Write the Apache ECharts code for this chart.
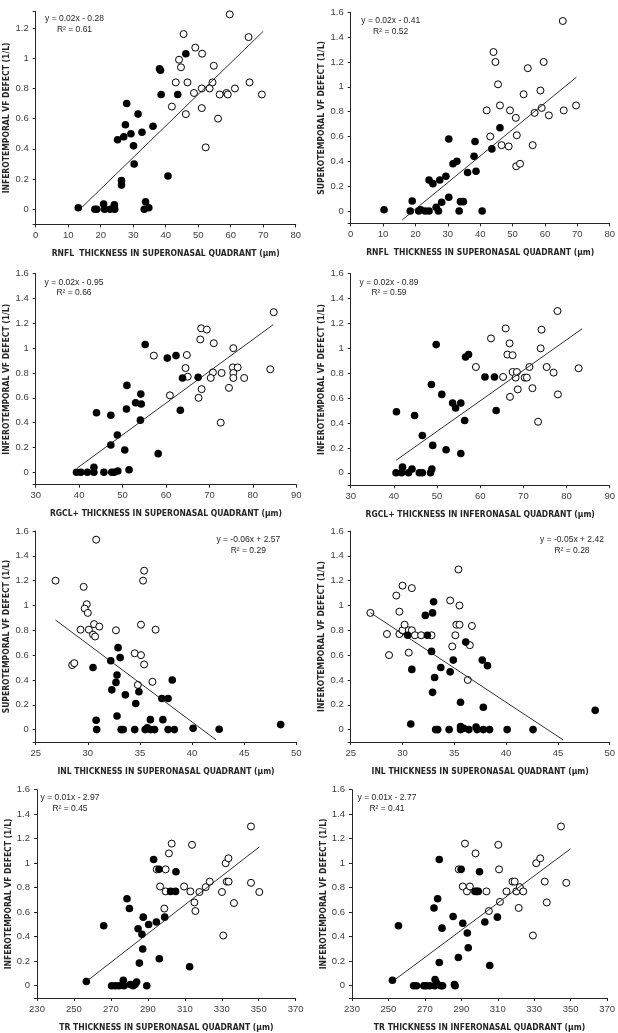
<!DOCTYPE html>
<html>
<head>
<meta charset="utf-8">
<script src="https://cdn.jsdelivr.net/npm/echarts@6/dist/echarts.min.js"></script>
<style>
html,body{margin:0;padding:0;background:#fff;}
#chart{width:618px;height:1033px;}
</style>
</head>
<body>
<div id="chart"></div>
<script>
// ---------- DATA ----------
const Y_LABELS = [0, 0.2, 0.4, 0.6, 0.8, 1, 1.2, 1.4, 1.6];
const Y_LABELS_P1 = [0, 0.2, 0.4, 0.6, 0.8, 1, 1.2];

// Panel 1: RNFL superonasal vs inferotemporal VF defect
const P1_FILLED = [[13.1,0.01],[18.2,0],[18.8,0],[20.9,0.035],[21.2,0],[22.9,0],[24.2,0.03],[24.3,0],[26.4,0.19],[26.4,0.16],[25.2,0.46],[27.1,0.48],[27.6,0.56],[28.0,0.70],[29.3,0.50],[30.1,0.42],[30.3,0.30],[31.5,0.63],[32.7,0.51],[36.1,0.55],[33.4,0],[33.8,0.05],[34.8,0.01],[38.1,0.93],[38.4,0.92],[38.6,0.76],[40.7,0.22],[43.7,0.76],[46.2,1.03]];
const P1_OPEN = [[45.5,1.16],[44.1,0.99],[44.7,0.94],[43.1,0.84],[46.7,0.84],[41.9,0.68],[46.2,0.63],[49.1,1.07],[51.2,1.03],[48.7,0.77],[51.1,0.80],[51.1,0.67],[52.3,0.41],[53.5,0.80],[54.4,0.84],[54.8,0.95],[56.1,0.60],[56.6,0.76],[58.7,0.77],[59.1,0.76],[59.7,1.29],[61.3,0.80],[65.5,1.14],[65.8,0.84],[69.6,0.76]];
const P1_TREND = [[14.2,0.013],[70.0,1.178]];

// Panel 2: RNFL superonasal vs superotemporal VF defect
const P2_FILLED = [[10.3,0.01],[18.4,0],[19.0,0.08],[21.0,0],[21.6,0.01],[23.0,0],[24.2,0],[24.2,0.25],[25.4,0.22],[26.4,0.03],[27.1,0],[27.5,0.25],[28.1,0.07],[29.4,0.28],[30.3,0.58],[30.3,0.11],[31.6,0.38],[32.8,0.40],[33.5,0],[33.9,0.075],[34.8,0.075],[36.1,0.31],[38.1,0.44],[38.4,0.56],[38.7,0.32],[40.6,0],[43.6,0.50],[46.1,0.67]];
const P2_OPEN = [[44.1,1.28],[44.7,1.20],[45.5,1.02],[42.0,0.81],[43.1,0.60],[46.1,0.85],[46.6,0.53],[48.8,0.52],[49.2,0.81],[51.0,0.75],[51.3,0.61],[51.1,0.36],[52.3,0.38],[53.4,0.94],[54.7,1.15],[56.2,0.53],[56.8,0.79],[58.6,0.97],[59.0,0.83],[59.6,1.20],[61.2,0.77],[65.5,1.53],[65.8,0.81],[69.6,0.85]];
const P2_TREND = [[15.9,-0.072],[69.7,1.077]];

// Panel 3: RGCL+ superonasal vs inferotemporal VF defect
const P3_FILLED = [[39.4,0],[40.4,0],[41.9,0],[43.4,0.04],[43.4,0],[44.0,0.48],[45.7,0],[47.3,0.46],[47.3,0.22],[47.5,0],[48.1,0],[48.9,0.01],[48.8,0.30],[50.5,0.18],[50.9,0.51],[51.0,0.70],[51.5,0.02],[53.0,0.56],[54.3,0.55],[54.2,0.63],[54.1,0.42],[55.2,1.03],[58.2,0.15],[60.3,0.92],[62.3,0.94],[63.3,0.50],[63.8,0.76],[67.4,0.765]];
const P3_OPEN = [[57.2,0.94],[60.9,0.62],[64.5,0.84],[64.8,0.945],[65.0,0.77],[67.5,0.60],[67.9,1.07],[68.1,1.16],[68.2,0.67],[69.4,1.15],[71.0,1.04],[70.8,0.805],[70.3,0.76],[72.6,0.40],[72.8,0.80],[74.5,0.68],[75.5,1.00],[75.4,0.845],[75.5,0.80],[75.5,0.76],[76.5,0.845],[78.0,0.76],[84.0,0.83],[84.8,1.29]];
const P3_TREND = [[39.6,0.035],[84.7,1.19]];

// Panel 4: RGCL+ inferonasal vs inferotemporal VF defect
const P4_FILLED = [[40.5,0],[40.6,0.49],[41.8,0],[42.0,0.045],[43.4,0],[44.2,0.03],[44.8,0.46],[45.9,0],[46.6,0.30],[46.6,0],[48.5,0],[48.7,0.71],[48.8,0.03],[49.0,0.22],[49.8,1.03],[51.1,0.63],[52.1,0.185],[53.6,0.56],[54.3,0.52],[55.5,0.56],[55.5,0.155],[56.4,0.42],[56.6,0.93],[57.3,0.95],[61.1,0.77],[63.3,0.77],[63.7,0.50]];
const P4_OPEN = [[59.0,0.85],[62.5,1.08],[65.3,0.77],[65.9,1.16],[66.3,0.95],[66.8,1.04],[66.9,0.61],[67.5,0.945],[67.5,0.81],[68.2,0.765],[68.5,0.81],[68.7,0.67],[70.3,0.765],[70.8,0.765],[71.4,0.85],[72.1,0.68],[73.4,0.41],[74.0,1.00],[74.2,1.15],[75.4,0.85],[77.0,0.805],[78.0,0.63],[77.9,1.30],[82.8,0.84]];
const P4_TREND = [[40.5,0.10],[83.6,1.157]];

// Panel 5: INL superonasal vs superotemporal VF defect
const P5_FILLED = [[30.5,0.50],[30.8,0.075],[30.85,0],[32.2,0.555],[32.3,0.32],[32.9,0.66],[33.1,0.58],[32.8,0.44],[32.7,0.38],[32.8,0.11],[33.2,0],[33.4,0],[33.6,0.28],[34.6,0.21],[34.5,0],[34.9,0.305],[35.5,0],[35.7,0.015],[36.0,0.08],[36.0,0],[36.4,0],[37.1,0.25],[37.2,0.08],[37.7,0.25],[37.7,0],[38.1,0.40],[38.3,0],[40.1,0.01],[42.6,0.003],[48.5,0.04]];
const P5_OPEN = [[26.9,1.20],[30.8,1.53],[29.6,1.15],[29.9,1.01],[29.7,0.975],[30.0,0.94],[29.3,0.805],[30.1,0.805],[30.6,0.85],[31.1,0.83],[30.5,0.765],[30.7,0.75],[28.5,0.52],[28.7,0.535],[32.7,0.80],[35.4,1.28],[35.3,1.20],[35.1,0.845],[36.5,0.805],[34.5,0.615],[35.1,0.60],[35.4,0.525],[36.2,0.385],[34.8,0.36]];
const P5_TREND = [[26.9,0.883],[42.3,-0.083]];

// Panel 6: INL superonasal vs inferotemporal VF defect
const P6_FILLED = [[30.5,0.76],[30.8,0.045],[30.9,0.485],[32.2,0.92],[32.4,0.76],[32.9,0.94],[33.0,1.03],[32.8,0.63],[32.9,0.30],[33.1,0.42],[33.2,0],[33.4,0],[33.7,0.50],[34.6,0.465],[34.5,0],[34.9,0.56],[35.6,0.22],[35.6,0.025],[35.6,0],[35.9,0.01],[36.1,0.705],[36.4,0],[37.1,0.02],[37.2,0],[37.7,0.56],[37.8,0.18],[37.8,0],[38.2,0.515],[38.4,0],[40.1,0],[42.6,0],[48.6,0.155]];
const P6_OPEN = [[26.9,0.94],[28.5,0.77],[28.7,0.60],[29.4,1.08],[30.0,1.16],[29.7,0.95],[29.7,0.77],[30.0,0.80],[30.2,0.845],[30.6,0.62],[30.6,0.80],[30.9,0.80],[30.9,1.14],[31.2,0.76],[31.8,0.76],[32.8,0.76],[34.6,1.04],[34.8,0.67],[35.1,0.76],[35.2,0.845],[35.4,1.29],[35.5,0.845],[35.5,1.00],[36.3,0.40],[36.5,0.68],[36.7,0.835]];
const P6_TREND = [[26.9,0.942],[45.5,-0.083]];

// Panel 7: TR superonasal vs inferotemporal VF defect
const P7_FILLED = [[256.7,0.035],[266.1,0.49],[270.4,0],[272.4,0],[274.4,0],[276.7,0.045],[277.1,0],[278.7,0.71],[280.0,0.63],[280.5,0.01],[282.0,0],[283.0,0.01],[283.9,0.03],[284.7,0.465],[285.4,0.185],[286.8,0.42],[287.2,0.30],[287.5,0.56],[289.4,0],[290.4,0.50],[293.1,1.03],[294.6,0.52],[296.0,0.95],[296.2,0.22],[299.1,0.56],[302.3,0.77],[305.0,0.77],[305.2,0.93],[312.6,0.155]];
const P7_OPEN = [[294.8,0.95],[299.6,0.95],[296.6,0.81],[299.6,0.77],[298.9,0.63],[301.4,1.08],[302.9,1.16],[309.6,0.81],[313.0,0.77],[313.9,1.15],[315.2,0.68],[315.7,0.61],[317.9,0.765],[321.3,0.805],[323.5,0.85],[330.1,0.765],[330.8,0.41],[332.1,1.00],[332.7,0.85],[333.6,1.04],[333.7,0.85],[336.6,0.675],[345.8,1.30],[345.8,0.84],[350.3,0.765]];
const P7_TREND = [[256.7,0.035],[350.3,1.133]];

// Panel 8: TR inferonasal vs inferotemporal VF defect
const P8_FILLED = [[252.2,0.045],[255.5,0.49],[263.8,0],[265.4,0],[269.4,0],[270.7,0],[272.7,0],[275.4,0],[275.6,0.05],[276.5,0.02],[278.7,0],[279.7,0],[275.0,0.635],[277.0,0.71],[277.9,1.03],[277.9,0.19],[279.4,0.47],[285.5,0.565],[286.2,0.01],[286.6,0],[288.4,0.23],[289.9,0.95],[290.8,0.51],[293.3,0.43],[293.8,0.31],[297.5,0.77],[299.3,0.77],[300.0,0.93],[302.9,0.52],[305.6,0.165],[309.8,0.56]];
const P8_OPEN = [[288.6,0.95],[290.8,0.81],[292.0,1.16],[293.1,0.77],[294.7,0.81],[297.8,1.08],[298.5,0.77],[303.8,0.77],[305.1,0.61],[310.3,1.15],[310.7,0.95],[311.2,0.685],[314.8,0.77],[318.1,0.85],[319.3,0.85],[320.2,0.77],[321.5,0.635],[322.1,0.805],[324.0,0.77],[329.3,0.41],[331.1,1.00],[333.3,1.04],[335.8,0.85],[336.9,0.68],[344.7,1.30],[347.6,0.84]];
const P8_TREND = [[253.7,0.051],[349.9,1.117]];

const EQ_LINES = [
  ['y = 0.02x - 0.28', 'R\u00B2 = 0.61'],
  ['y = 0.02x - 0.41', 'R\u00B2 = 0.52'],
  ['y = 0.02x - 0.95', 'R\u00B2 = 0.66'],
  ['y = 0.02x - 0.89', 'R\u00B2 = 0.59'],
  ['y = -0.06x + 2.57', 'R\u00B2 = 0.29'],
  ['y = -0.05x + 2.42', 'R\u00B2 = 0.28'],
  ['y = 0.01x - 2.97', 'R\u00B2 = 0.45'],
  ['y = 0.01x - 2.77', 'R\u00B2 = 0.41']
];
const X_NAMES = [
  'RNFL  THICKNESS IN SUPERONASAL QUADRANT (\u00B5m)',
  'RNFL  THICKNESS IN SUPERONASAL QUADRANT (\u00B5m)',
  'RGCL+ THICKNESS IN SUPERONASAL QUADRANT (\u00B5m)',
  'RGCL+ THICKNESS IN INFERONASAL QUADRANT (\u00B5m)',
  'INL THICKNESS IN SUPERONASAL QUADRANT (\u00B5m)',
  'INL THICKNESS IN SUPERONASAL QUADRANT (\u00B5m)',
  'TR THICKNESS IN SUPERONASAL QUADRANT (\u00B5m)',
  'TR THICKNESS IN INFERONASAL QUADRANT (\u00B5m)'
];
const Y_NAMES = [
  'INFEROTEMPORAL VF DEFECT (1/L)',
  'SUPEROTEMPORAL VF DEFECT (1/L)',
  'INFEROTEMPORAL VF DEFECT (1/L)',
  'INFEROTEMPORAL VF DEFECT (1/L)',
  'SUPEROTEMPORAL VF DEFECT (1/L)',
  'INFEROTEMPORAL VF DEFECT (1/L)',
  'INFEROTEMPORAL VF DEFECT (1/L)',
  'INFEROTEMPORAL VF DEFECT (1/L)'
];
const X_RANGES = [[0,80,10],[0,80,10],[30,90,10],[30,90,10],[25,50,5],[25,50,5],[230,370,20],[230,370,20]];

// ---------- LAYOUT ----------
const FILLED = [P1_FILLED,P2_FILLED,P3_FILLED,P4_FILLED,P5_FILLED,P6_FILLED,P7_FILLED,P8_FILLED];
const OPEN = [P1_OPEN,P2_OPEN,P3_OPEN,P4_OPEN,P5_OPEN,P6_OPEN,P7_OPEN,P8_OPEN];
const TRENDS = [P1_TREND,P2_TREND,P3_TREND,P4_TREND,P5_TREND,P6_TREND,P7_TREND,P8_TREND];

const GRIDS = [
  {left:35.7, top:11.4, width:260, height:213},
  {left:350.7, top:12.3, width:260.6, height:211.1},
  {left:35.7, top:273.7, width:260.6, height:211},
  {left:350.7, top:273.7, width:260.6, height:211.5},
  {left:35.7, top:531, width:260.6, height:211},
  {left:350.7, top:531, width:260.6, height:211},
  {left:37, top:789.7, width:258.7, height:211.5},
  {left:352, top:789.7, width:258, height:211.5}
];
const EQ_POS = [[74.5,18.5,29.5],[390.7,20.7,31.7],[74,282.3,293],[389,282.3,293],[248.3,540,550.5],[572,540,550.5],[70,798,808.5],[387,798,808.5]];

const FONT = '"Liberation Sans", Arial, sans-serif';
const NAME_FONT = '"Liberation Sans Narrow", "DejaVu Sans Condensed", "Liberation Sans", sans-serif';
const TXT = '#404040';
const AX = '#262626';

const option = {
  animation: false,
  backgroundColor: '#fff',
  grid: [], xAxis: [], yAxis: [], series: [], graphic: []
};

for (let i = 0; i < 8; i++) {
  option.grid.push(Object.assign({containLabel:false}, GRIDS[i]));
  const xr = X_RANGES[i];
  option.xAxis.push({
    type:'value', gridIndex:i, min:xr[0], max:xr[1], interval:xr[2],
    position:'bottom',
    axisLine:{onZero:false, lineStyle:{color:AX, width:1}},
    axisTick:{show:true, inside:false, length:3, lineStyle:{color:AX}},
    axisLabel:{color:TXT, fontSize:9.5, fontFamily:FONT, margin:6},
    splitLine:{show:false},
    name:X_NAMES[i], nameLocation:'middle', nameGap:25,
    nameTextStyle:{color:'#262626', fontWeight:'bold', fontSize:8.5, fontFamily:NAME_FONT}
  });
  const yMax = i === 0 ? 1.31 : 1.6;
  const yl = i === 0 ? Y_LABELS_P1 : Y_LABELS;
  option.yAxis.push({
    type:'value', gridIndex:i, min:-0.1, max:yMax,
    axisLine:{show:true, onZero:false, lineStyle:{color:AX, width:1}},
    axisTick:{show:true, length:3, lineStyle:{color:AX}, customValues:[-0.1].concat(yl).concat(i===0?[1.31]:[])},
    axisLabel:{color:TXT, fontSize:9.5, fontFamily:FONT, margin:7, customValues:yl},
    splitLine:{show:false},
    name:Y_NAMES[i], nameLocation:'middle', nameGap:24, nameRotate:90,
    nameTextStyle:{color:'#262626', fontWeight:'bold', fontSize:8.5, fontFamily:NAME_FONT}
  });
  option.series.push({
    type:'scatter', xAxisIndex:i, yAxisIndex:i, data:OPEN[i],
    symbol:'circle', symbolSize:7,
    itemStyle:{color:'#fff', borderColor:'#000', borderWidth:1, opacity:1}
  });
  option.series.push({
    type:'scatter', xAxisIndex:i, yAxisIndex:i, data:FILLED[i],
    symbol:'circle', symbolSize:7.6,
    itemStyle:{color:'#000', opacity:1}
  });
  option.series.push({
    type:'line', xAxisIndex:i, yAxisIndex:i, data:TRENDS[i],
    symbol:'none', z:5, lineStyle:{color:'#1a1a1a', width:0.9}
  });
  const ep = EQ_POS[i];
  option.graphic.push({
    type:'text', x:ep[0], y:ep[1],
    style:{text:EQ_LINES[i][0], fill:'#262626', font:'8.5px ' + FONT, align:'center', verticalAlign:'middle', textAlign:'center', textVerticalAlign:'middle'}
  });
  option.graphic.push({
    type:'text', x:ep[0], y:ep[2],
    style:{text:EQ_LINES[i][1], fill:'#262626', font:'8.5px ' + FONT, align:'center', verticalAlign:'middle', textAlign:'center', textVerticalAlign:'middle'}
  });
}

const chart = echarts.init(document.getElementById('chart'), null, {renderer:'canvas'});
chart.setOption(option);
</script>
</body>
</html>
